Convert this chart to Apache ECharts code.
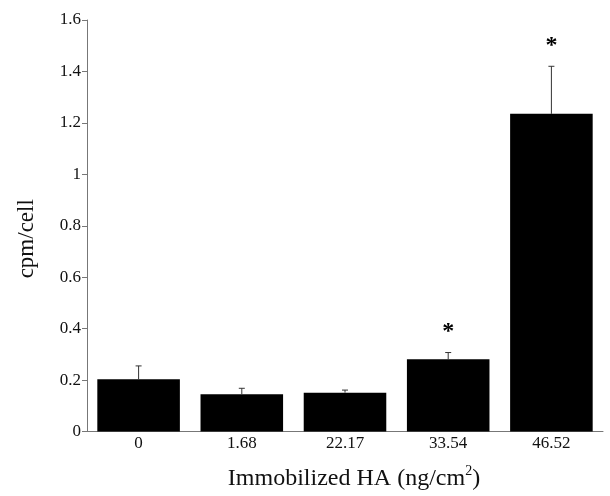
<!DOCTYPE html>
<html>
<head>
<meta charset="utf-8">
<script src="https://cdn.jsdelivr.net/npm/echarts@6/dist/echarts.min.js"></script>
<style>
html,body{margin:0;padding:0;background:#fff;}
#chart{width:610px;height:496px;}
</style>
</head>
<body>
<div id="chart"></div>
<script>
const categories = ['0', '1.68', '22.17', '33.54', '46.52'];
const means = [0.203, 0.145, 0.151, 0.281, 1.235];
const errorTops = [0.255, 0.168, 0.161, 0.307, 1.42];
const asterisks = [[3, 0.40], [4, 1.51]];
const yTicks = [0, 0.2, 0.4, 0.6, 0.8, 1, 1.2, 1.4, 1.6];

const font = '"Liberation Serif", "Times New Roman", serif';
const chart = echarts.init(document.getElementById('chart'), null, {renderer: 'canvas'});

const errData = categories.map((c, i) => [i, means[i], errorTops[i]]);

chart.setOption({
  animation: false,
  backgroundColor: '#fff',
  grid: {left: 87, right: 7, top: 20, bottom: 64.5, containLabel: false},
  xAxis: {
    type: 'category',
    data: categories,
    axisLine: {lineStyle: {color: '#777', width: 1}},
    axisTick: {show: false},
    axisLabel: {color: '#111', fontFamily: font, fontSize: 17, margin: 4},
    name: 'Immobilized HA (ng/cm{sup|2})',
    nameLocation: 'middle',
    nameGap: 33,
    nameTextStyle: {
      color: '#111', fontFamily: font, fontSize: 24, padding: [0, 0, 0, 18],
      rich: {sup: {fontFamily: font, fontSize: 14, verticalAlign: 'top', padding: [0, 0, 14, 0], color: '#111'}}
    }
  },
  yAxis: {
    type: 'value',
    min: 0,
    max: 1.6,
    interval: 0.2,
    axisLine: {show: true, lineStyle: {color: '#777', width: 1}},
    axisTick: {show: true, length: 5, lineStyle: {color: '#777'}},
    splitLine: {show: false},
    axisLabel: {color: '#111', fontFamily: font, fontSize: 17, margin: 6,
      formatter: v => String(Math.round(v * 10) / 10)},
    name: 'cpm/cell',
    nameLocation: 'middle',
    nameGap: 49,
    nameTextStyle: {color: '#111', fontFamily: font, fontSize: 23, padding: [0, 26, 0, 0]}
  },
  series: [
    {
      type: 'bar',
      data: means,
      barWidth: '80%',
      itemStyle: {color: '#000'},
      z: 2
    },
    {
      type: 'custom',
      data: errData,
      z: 3,
      renderItem: function (params, api) {
        const x = api.value(0);
        const lo = api.coord([x, api.value(1)]);
        const hi = api.coord([x, api.value(2)]);
        const cap = 3;
        return {
          type: 'group',
          children: [
            {type: 'line', shape: {x1: lo[0], y1: lo[1], x2: hi[0], y2: hi[1]}, style: {stroke: '#333', lineWidth: 1}},
            {type: 'line', shape: {x1: hi[0] - cap, y1: hi[1], x2: hi[0] + cap, y2: hi[1]}, style: {stroke: '#333', lineWidth: 1}}
          ]
        };
      }
    },
    {
      type: 'custom',
      data: asterisks,
      z: 4,
      renderItem: function (params, api) {
        const p = api.coord([api.value(0), api.value(1)]);
        return {
          type: 'text',
          x: p[0],
          y: p[1] + 3,
          style: {text: '*', fontFamily: font, fontSize: 24, fontWeight: 'bold', fill: '#000', align: 'center', verticalAlign: 'middle'}
        };
      }
    }
  ]
});
</script>
</body>
</html>
